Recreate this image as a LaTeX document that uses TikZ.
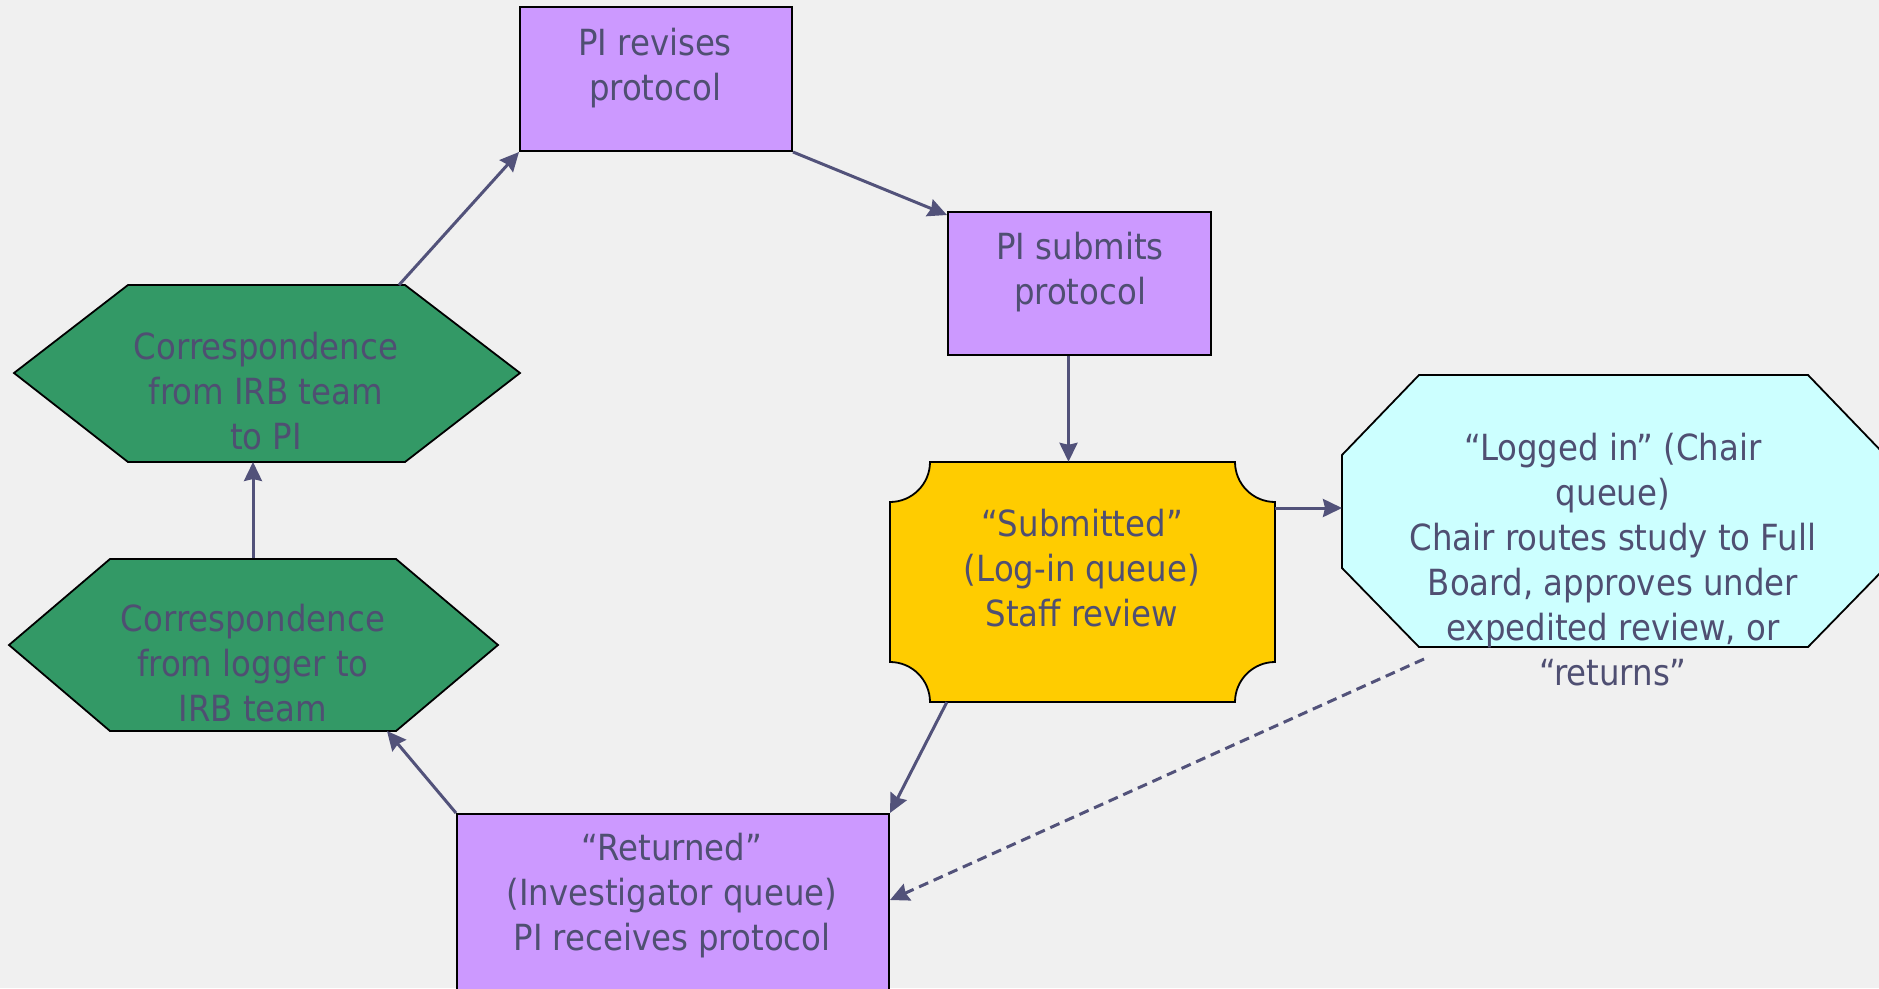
\documentclass[tikz,border=0pt]{standalone}
\usepackage{fontspec}
\setmainfont{DejaVu Sans Condensed}
\usetikzlibrary{arrows.meta}
\definecolor{bg}{HTML}{F0F0F0}
\definecolor{txt}{HTML}{4F4F72}
\definecolor{arr}{HTML}{52527A}
\definecolor{purp}{HTML}{CC99FF}
\definecolor{grn}{HTML}{339966}
\definecolor{yel}{HTML}{FFCC00}
\definecolor{cyn}{HTML}{CCFFFF}
\tikzset{
  pbox/.style={draw=black, line width=2pt, fill=purp, inner sep=0pt},
  lbl/.style={text=txt, font=\fontsize{36}{45}\selectfont, align=center, inner sep=0pt},
  conn/.style={draw=arr, line width=3pt, -{Stealth[length=19pt,width=18pt,inset=2pt]}},
  dconn/.style={conn, dash pattern=on 10pt off 6pt},
  shp/.style={draw=black, line width=1.8pt},
  holder/.style={inner sep=0pt, draw=none}
}
\begin{document}
\begin{tikzpicture}[x=1pt,y=-1pt]
\path[use as bounding box, fill=bg] (0,0) rectangle (1879,988);
\clip (0,0) rectangle (1879,988);

% purple boxes
\node[pbox, minimum width=272pt, minimum height=144pt] (rev) at (656,79) {};
\node[lbl] (revT) at (655,68) {PI revises\\protocol};
\node[pbox, minimum width=263pt, minimum height=143pt] (subm) at (1079.5,283.5) {};
\node[lbl] (submT) at (1080,272) {PI submits\\protocol};
\node[pbox, minimum width=432pt, minimum height=190pt] (ret) at (673,909) {};
\node[lbl] (retT) at (672,896) {“Returned”\\(Investigator queue)\\PI receives protocol};

% yellow plaque
\node[holder, minimum width=385pt, minimum height=240pt] (stf) at (1082.5,582) {};
\path[shp, fill=yel] (930,462) -- (1235,462) .. controls (1235,484) and (1253,502) .. (1275,502)
  -- (1275,662) .. controls (1253,662) and (1235,680) .. (1235,702)
  -- (930,702) .. controls (930,680) and (912,662) .. (890,662)
  -- (890,502) .. controls (912,502) and (930,484) .. (930,462) -- cycle;
\node[lbl] (stfT) at (1082,568) {“Submitted”\\(Log-in queue)\\Staff review};

% cyan octagon
\path[shp, fill=cyn] (1342,455) -- (1419,375) -- (1808,375) -- (1885,455) -- (1885,568)
  -- (1808,647) -- (1419,647) -- (1342,568) -- cycle;
\coordinate (octL) at (1342,508);
\coordinate (octBL) at (1424,659);
\node[lbl] (octT) at (1613,560) {“Logged in” (Chair\\queue)\\Chair routes study to Full\\Board, approves under\\expedited review, or\\“returns”};

% green hexagons
\path[shp, fill=grn] (14,373) -- (128,285) -- (405,285) -- (520,373) -- (405,462) -- (128,462) -- cycle;
\coordinate (hTtop) at (399,285);
\coordinate (hTbot) at (253,462);
\node[lbl] (hTT) at (266,391) {Correspondence\\from IRB team\\to PI};
\path[shp, fill=grn] (9,645) -- (110,559) -- (396,559) -- (498,645) -- (396,731) -- (110,731) -- cycle;
\coordinate (hBtop) at (253,558);
\coordinate (hBbr) at (387,731);
\node[lbl] (hBT) at (253,663) {Correspondence\\from logger to\\IRB team};

% connectors
\draw[conn] (hTtop) -- (rev.south west);
\draw[conn] (rev.south east) -- ([yshift=-4pt]subm.north west);
\draw[conn] ([xshift=-11pt]subm.south) -- ([xshift=-11pt]subm.south |- stf.north);
\draw[conn] ([yshift=74pt]stf.east) -- (octL);
\draw[conn] ([xshift=57pt]stf.south west) -- (ret.north east);
\draw[dconn] (octBL) -- ([yshift=9pt]ret.east);
\draw[conn] (ret.north west) -- (hBbr);
\draw[conn] (hBtop) -- (hTbot);
\end{tikzpicture}
\end{document}
